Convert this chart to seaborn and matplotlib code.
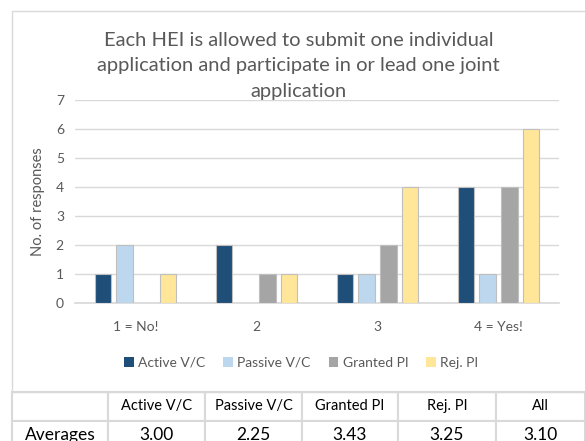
import matplotlib
matplotlib.use("Agg")
import matplotlib.pyplot as plt
import matplotlib.patches as mpatches
import pandas as pd
import seaborn as sns

categories = ["1 = No!", "2", "3", "4 = Yes!"]
groups = ["Active V/C", "Passive V/C", "Granted PI", "Rej. PI"]
active_vc = [1, 2, 1, 4]
passive_vc = [2, 0, 1, 1]
granted_pi = [0, 1, 2, 4]
rej_pi = [1, 1, 4, 6]
table_cols = ["", "Active V/C", "Passive V/C", "Granted PI", "Rej. PI", "All"]
averages = ["Averages", "3.00", "2.25", "3.43", "3.25", "3.10"]

colors = ["#1F4E79", "#BDD7EE", "#A5A5A5", "#FFE699"]
text_col = "#595959"
grid_col = "#D9D9D9"

sns.set_theme(style="white")
plt.rcParams["font.family"] = ["Lato", "DejaVu Sans"]

df = pd.DataFrame({
    "cat": categories * 4,
    "group": [g for g in groups for _ in categories],
    "value": active_vc + passive_vc + granted_pi + rej_pi,
})

fig = plt.figure(figsize=(5.85, 4.41), dpi=100)

# outer chart frame
fig.patches.append(mpatches.Rectangle((12 / 585, 49 / 441), 580 / 585, 381 / 441,
                                      transform=fig.transFigure, fill=False,
                                      edgecolor=grid_col, linewidth=1))

ax = fig.add_axes([75 / 585, 138 / 441, 484 / 585, 203 / 441])
sns.barplot(data=df, x="cat", y="value", hue="group", order=categories,
            hue_order=groups, palette=colors, saturation=1, width=0.717, gap=0.22,
            edgecolor="#BFBFBF", linewidth=0.8, ax=ax, zorder=3)
for p in ax.patches:
    if p.get_height() == 0:
        p.set_linewidth(0)

ax.set_xlim(-0.5, 3.5)
ax.set_ylim(0, 7)
ax.set_yticks(range(8))
ax.yaxis.grid(True, color=grid_col, linewidth=1)
ax.set_axisbelow(True)
for s in ["top", "right", "left"]:
    ax.spines[s].set_visible(False)
ax.spines["bottom"].set_color(grid_col)
ax.tick_params(axis="both", colors=text_col, labelsize=10, length=0, pad=8)
ax.tick_params(axis="x", pad=13)
ax.set_xlabel("")
ax.set_ylabel("No. of responses", color=text_col, fontsize=10.5, labelpad=8)

handles, labels = ax.get_legend_handles_labels()
ax.legend(handles, labels, ncol=4, frameon=False, loc="center",
          bbox_to_anchor=(0.515, 0.177), bbox_transform=fig.transFigure,
          fontsize=10, handlelength=0.7, handleheight=0.7, handletextpad=0.3,
          columnspacing=1.3, labelcolor=text_col)

fig.text(0.51, 1 - 66 / 441, "Each HEI is allowed to submit one individual\n"
         "application and participate in or lead one joint\napplication",
         ha="center", va="center", fontsize=14.5, color=text_col, linespacing=1.58)

# summary table under the chart
tax = fig.add_axes([12 / 585, -8 / 441, 573 / 585, 57 / 441])
tax.axis("off")
widths = [96, 97, 97, 96, 98, 89]
tot = sum(widths)
tbl = tax.table(cellText=[table_cols, averages], cellLoc="center",
                colWidths=[w / tot for w in widths], bbox=[0, 0, 1, 1])
tbl.auto_set_font_size(False)
for (r, c), cell in tbl.get_celld().items():
    cell.set_edgecolor(grid_col)
    cell.set_linewidth(1.5)
    cell.get_text().set_fontsize(10.5 if r == 0 else 12.5)
    cell.get_text().set_color("black")

fig.savefig("out.png", dpi=100)
